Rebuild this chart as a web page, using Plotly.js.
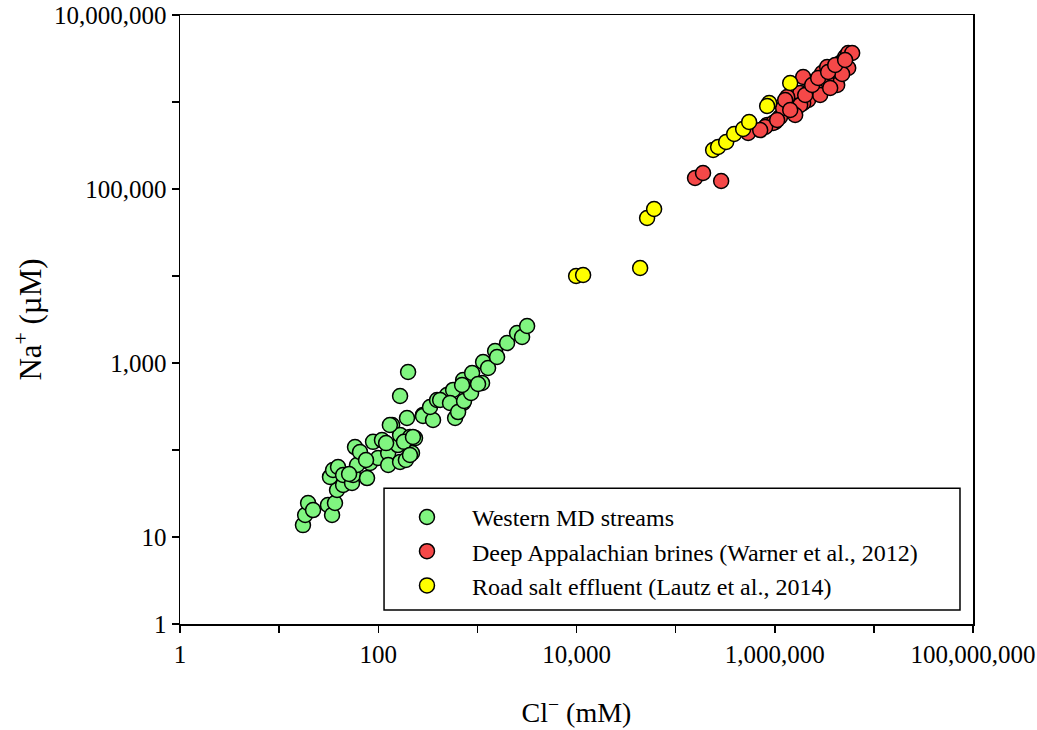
<!DOCTYPE html>
<html>
<head>
<meta charset="utf-8">
<script src="https://cdn.plot.ly/plotly-3.0.1.min.js"></script>
<style>html,body{margin:0;padding:0;background:#fff;}#chart{width:1037px;height:730px;}</style>
</head>
<body>
<div id="chart"></div>
<script>
// Western MD streams
const streamsCl = [17.4,18.3,19.6,22,31.1,34.2,36.6,38.4,32.6,35,39.3,44.2,44.2,54.4,55.7,61.1,58.3,65.5,77.1,82.7,88.6,99.5,109,126,126,138,158,166,166,195,190,209,219,235,283,200,166,283,357,333,392,494,596,718,569,718,885,1115,1142,1282,1510,1580,1994,2515,2825,3175,131,421,530,639,734,864,1016,701,50.8,75.3,120,182,209,224];
const streamsNa = [13.7,17.9,24.6,20.4,23.3,17.9,24.6,34.7,49,58.9,63.8,39.6,51.6,41.8,51.6,67.2,108,94.8,47.6,70.9,124,80.9,130,92.4,67.2,194,114,72.8,149,233,76.7,141,92.4,137,253,788,418,246,221,312,376,429,233,347,490,638,767,589,1026,877,1374,1172,1698,2213,1991,2662,194,376,347,273,366,452,574,559,53,76.7,120,124,87.7,141];
// Deep Appalachian brines (Warner et al., 2012)
const brinesCl = [157000,189000,288000,539000,838000,1010000,1130000,1215000,1500000,1805000,1935000,2172000,2678000,3006000,3379000,3793000,4073000,4264000,4571000,5129000,5508000,6039000,1683000,1935000,1335000,963000,800000,2275000,2872000,3302000,4900000,5508000,4363000,4786000,3624000,1805000,1274000,1607000,1432000,2028000,2384000,2742000,3457000,4073000,5129000,1057000,713000];
const brinesNa = [133700,152700,123700,440500,544000,589000,673000,853000,1054000,1268000,1937000,1054000,1698000,2153000,2523000,1937000,2394000,1567000,2806000,3289000,3656000,3656000,877000,975000,1139000,574000,516000,1374000,1203000,1790000,2884000,2460000,2333000,2099000,1449000,925000,1054000,709000,809000,1203000,1567000,1888000,2213000,2661000,3041000,621000,476000];
// Road salt effluent (Lautz et al., 2014)
const roadCl = [9910,11660,43850,51550,60670,238900,268300,323500,389400,479900,551800,878600,1432000,838000];
const roadNa = [10000,10260,12370,46400,58900,280600,304000,346900,428600,489600,589200,974600,1652000,899000];

const seriesNames = ['Western MD streams','Deep Appalachian brines (Warner et al., 2012)','Road salt effluent (Lautz et al., 2014)'];
const seriesColors = ['#80F580','#F54848','#FFFF00'];

const xTickVals = [1,100,1e4,1e6,1e8];
const xTickText = ['1','100','10,000','1,000,000','100,000,000'];
const yTickVals = [1,10,1e3,1e5,1e7];
const yTickText = ['1','10','1,000','100,000','10,000,000'];

const FONT = '"Liberation Serif", "Times New Roman", serif';

function mk(x, y, i) {
  return {
    x: x, y: y, type: 'scatter', mode: 'markers', name: seriesNames[i],
    marker: {size: 15, color: seriesColors[i], line: {color: '#000', width: 1.5}}
  };
}
const data = [mk(streamsCl, streamsNa, 0), mk(brinesCl, brinesNa, 1), mk(roadCl, roadNa, 2)];

const axisCommon = {
  type: 'log', showgrid: false, zeroline: false, showline: true, mirror: true,
  linecolor: '#000', linewidth: 1.5, ticks: 'outside', ticklen: 7, tickwidth: 1.5,
  tickcolor: '#000', tickmode: 'array', tickfont: {family: FONT, size: 25, color: '#000'},
  minor: {tickmode: 'linear', tick0: 0, dtick: 1, ticks: 'outside', ticklen: 7, tickwidth: 1.5, tickcolor: '#000', showgrid: false}
};

const layout = {
  width: 1037, height: 730,
  margin: {l: 180, r: 64, t: 15, b: 106},
  paper_bgcolor: '#fff', plot_bgcolor: '#fff',
  font: {family: FONT, color: '#000'},
  showlegend: true,
  xaxis: Object.assign({}, axisCommon, {
    range: [0, 8], tickvals: xTickVals, ticktext: xTickText,
    title: {text: 'Cl<sup>−</sup> (mM)', font: {family: FONT, size: 28, color: '#000'}, standoff: 36}
  }),
  yaxis: Object.assign({}, axisCommon, {
    range: [0, 7], tickvals: yTickVals, ticktext: yTickText,
    title: {text: 'Na<sup>+</sup> (µM)', font: {family: FONT, size: 31, color: '#000'}, standoff: 3}
  }),
  legend: {
    x: 0.2547, y: 0.212, xanchor: 'left', yanchor: 'top',
    bgcolor: 'rgba(0,0,0,0)', borderwidth: 0, itemwidth: 80,
    font: {family: FONT, size: 24, color: '#000'}, tracegroupgap: 0
  },
  shapes: [{
    type: 'rect', xref: 'paper', yref: 'paper',
    x0: 0.2573, x1: 0.9836, y0: 0.023, y1: 0.223,
    line: {color: '#000', width: 1.5}, fillcolor: 'rgba(0,0,0,0)', layer: 'above'
  }]
};

Plotly.newPlot('chart', data, layout, {displayModeBar: false, staticPlot: true});
</script>
</body>
</html>
